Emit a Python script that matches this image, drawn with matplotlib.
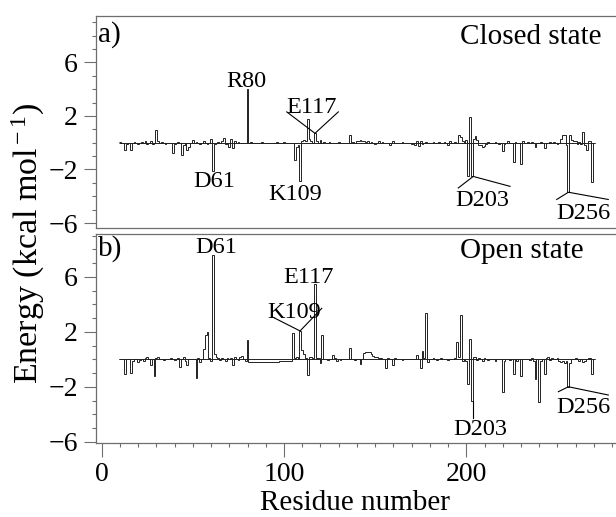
import numpy as np
import matplotlib
matplotlib.use("Agg")
import matplotlib.pyplot as plt
from matplotlib.ticker import FixedLocator, MultipleLocator

plt.rcParams["font.family"] = ["Liberation Serif", "DejaVu Serif"]
plt.rcParams["mathtext.fontset"] = "custom"
plt.rcParams["mathtext.rm"] = "Liberation Serif"
plt.rcParams["mathtext.it"] = "Liberation Serif:italic"

# residue range covered by the calculation
first_res, last_res = 10, 270

# closed state: residue -> interaction energy (kcal/mol), zeros elsewhere
closed_res = [10, 11, 13, 14, 16, 18, 20, 22, 24, 25, 27, 28, 30, 31, 33, 35, 37, 39, 40, 42,
              44, 45, 47, 48, 50, 52, 54, 56, 58, 60, 61, 62, 64, 66, 67, 68, 70, 71, 72, 73,
              75, 80, 82, 88, 96, 100, 103, 106, 107, 108, 109, 110, 111, 112, 113, 114, 115, 117, 118, 120,
              122, 125, 130, 136, 138, 140, 141, 142, 143, 144, 145, 146, 148, 150, 152, 154, 158, 160, 165, 170,
              172, 173, 174, 175, 176, 178, 182, 185, 188, 190, 191, 192, 194, 196, 197, 198, 199, 200, 201, 202,
              203, 204, 205, 206, 207, 208, 209, 210, 211, 212, 214, 216, 218, 220, 221, 223, 224, 226, 227, 228,
              230, 231, 234, 236, 238, 239, 241, 243, 244, 246, 248, 250, 252, 253, 254, 255, 256, 257, 258, 259,
              260, 261, 262, 263, 264, 265, 266, 267, 268, 269]
closed_dg = [0.05, -0.05, -0.55, -0.1, -0.55, 0.05, -0.1, 0.08, 0.1, -0.1, 0.12, -0.08, 0.95, 0.1, 0.05, -0.08, -0.05, -0.8, -0.1, 0.08,
             -0.95, -0.15, -0.55, -0.3, 0.2, 0.05, -0.1, 0.15, -0.1, 0.25, -2.15, -0.1, 0.05, 0.1, 0.35, -0.1, -0.35, 0.3, -0.4, 0.1,
             0.05, 4.0, 0.05, 0.05, 0.08, 0.05, -0.05, -1.3, -0.35, -0.2, -2.85, 0.15, 0.2, 0.15, 1.8, 0.3, 0.15, 0.7, 0.15, 0.2,
             0.05, 0.05, 0.05, 0.55, 0.05, 0.1, 0.15, 0.2, 0.12, 0.15, 0.08, 0.1, 0.05, -0.08, 0.1, 0.05, -0.2, 0.1, 0.05, -0.08,
             -0.15, 0.1, -0.25, 0.1, -0.1, 0.05, 0.05, 0.08, 0.05, -0.15, 0.1, -0.05, 0.05, 0.55, 0.45, 0.1, -0.05, 0.2, -2.5, 1.9,
             -2.5, 0.3, 0.5, 0.2, -0.2, -0.15, -0.3, -0.25, -0.1, 0.05, -0.05, 0.05, -0.1, -0.6, -0.1, 0.1, -0.05, -1.45, 0.05, -0.05,
             -1.6, 0.1, 0.08, 0.05, -0.35, -0.05, 0.05, -0.4, -0.05, 0.05, 0.08, -0.1, 0.25, 0.55, 0.6, -0.2, -3.65, 0.6, 0.2, 0.1,
             0.15, -0.1, 0.05, -0.1, 0.8, -0.2, -0.55, 0.15, 0.1, -2.9]

# open state
open_res = [10, 11, 13, 14, 16, 17, 18, 20, 21, 22, 23, 24, 25, 26, 27, 28, 29, 30, 31, 32,
            34, 36, 38, 40, 42, 43, 44, 45, 46, 47, 48, 50, 52, 53, 54, 55, 56, 57, 58, 59,
            60, 61, 62, 63, 64, 65, 66, 67, 68, 69, 70, 71, 72, 73, 74, 75, 76, 77, 78, 79,
            80, 81, 82, 83, 84, 85, 86, 87, 88, 89, 90, 91, 92, 93, 94, 95, 96, 97, 98, 99,
            100, 101, 102, 103, 104, 105, 106, 107, 108, 109, 110, 111, 112, 113, 114, 115, 116, 117, 118, 119,
            120, 121, 122, 124, 126, 127, 128, 129, 131, 133, 136, 137, 139, 140, 142, 143, 144, 145, 146, 147,
            148, 149, 150, 151, 152, 153, 154, 156, 157, 158, 160, 161, 163, 165, 168, 170, 173, 174, 175, 176,
            177, 178, 179, 180, 182, 184, 186, 188, 190, 192, 194, 195, 196, 197, 198, 199, 200, 201, 202, 203,
            204, 205, 206, 207, 208, 209, 210, 211, 212, 214, 216, 218, 220, 221, 222, 224, 226, 227, 228, 230,
            231, 233, 235, 236, 237, 238, 239, 240, 241, 243, 244, 245, 246, 247, 248, 250, 251, 252, 253, 254,
            255, 256, 257, 258, 260, 262, 263, 264, 265, 266, 267, 268, 269]
open_dg = [0.05, 0.05, -1.1, 0.05, -1.0, -0.1, 0.05, -0.2, -0.05, 0.05, -0.15, 0.1, 0.15, 0.05, -0.45, 0.05, -1.2, 0.1, 0.15, 0.05,
           -0.05, 0.05, 0.08, -0.05, 0.1, -0.55, 0.05, 0.15, -0.1, -0.4, 0.05, 0.05, -1.35, 0.1, -0.2, 0.05, 0.75, 1.75, 1.95, 0.1,
           -0.1, 7.6, 0.4, 0.2, 0.1, -0.05, 0.1, 0.05, -0.1, 0.1, 0.05, 0.1, -0.45, 0.15, 0.05, -0.05, 0.2, 0.25, 0.05, -0.1,
           1.4, -0.17, -0.17, -0.18, -0.17, -0.17, -0.18, -0.18, -0.17, -0.17, -0.18, -0.18, -0.17, -0.17, -0.17, -0.18, -0.17, -0.17, -0.16, -0.16,
           -0.16, -0.15, -0.15, -0.14, -0.12, 1.9, 0.1, 0.15, 0.05, 2.05, 0.7, 0.4, 0.1, -1.15, 0.2, 0.15, 0.1, 5.5, 0.1, 0.1,
           -0.25, 1.8, 0.05, -0.05, 0.05, 0.3, 0.1, -0.1, -0.05, 0.05, 0.8, 0.05, -0.05, 0.05, -0.35, 0.05, 0.45, 0.5, 0.55, 0.5,
           0.35, 0.25, 0.2, 0.15, 0.1, 0.1, 0.05, -0.65, 0.1, 0.05, -0.45, 0.1, 0.05, -0.05, 0.05, 0.05, 0.3, 0.05, -0.6, 0.6,
           0.1, 3.4, -0.2, 0.05, 0.08, -0.05, 0.1, 0.05, -0.05, 0.05, 0.1, 1.25, 0.2, 3.2, -0.1, 0.05, -0.1, -1.8, 1.5, -3.05,
           0.2, 0.15, -0.05, 0.1, 0.05, -0.1, 0.1, 0.05, -0.08, 0.05, -0.1, 0.05, -2.4, -0.1, 0.05, -0.05, -1.05, 0.05, -0.1, -1.2,
           0.05, 0.05, -0.05, 0.1, -0.1, -1.4, 0.05, -3.1, -0.1, -1.1, 0.1, 0.15, -0.05, 0.1, 0.05, 0.1, -0.1, -0.2, -0.15, -0.25,
           -0.1, -2.0, -0.3, 0.05, 0.1, -0.1, 0.05, -0.2, -0.15, 0.05, 0.1, 0.1, -1.05]

# labelled residues: (label, text x, text y, leader line points)
closed_labels = [
    ("R80", 79.2, 4.15, None),
    ("E117", 115.1, 2.2, [(101.5, 2.3), (117.0, 0.7), (129.8, 2.3)]),
    ("D61", 61.6, -3.3, None),
    ("K109", 106.0, -4.25, None),
    ("D203", 208.9, -4.75, [(195.6, -3.38), (203.8, -2.52), (224.0, -3.26)]),
    ("D256", 264.0, -5.7, [(249.6, -4.24), (256.0, -3.7), (277.9, -4.24)]),
]
open_labels = [
    ("D61", 62.7, 7.75, None),
    ("E117", 113.7, 5.55, None),
    ("K109", 105.8, 3.0, [(93.3, 3.1), (108.8, 2.06), (120.7, 3.7)]),
    ("D203", 207.8, -5.5, [(203.5, -3.05), (203.5, -4.3)]),
    ("D256", 264.0, -3.9, [(250.5, -2.36), (256.0, -2.0), (277.9, -2.6)]),
]

W, H = 616, 517
fig = plt.figure(figsize=(W / 100, H / 100), dpi=100)

left_px, right_px = 96, 619
x0_px, px_per_res = 101.7, 1.823
xlim = ((left_px - x0_px) / px_per_res, (right_px - x0_px) / px_per_res)


def make_axes(top_px, bot_px):
    return fig.add_axes([left_px / W, 1 - bot_px / H, (right_px - left_px) / W, (bot_px - top_px) / H])


ax_a = make_axes(16, 228)
ax_b = make_axes(234, 443)

edges = np.arange(first_res - 0.5, last_res + 1.0)
spine_col = "#6e6e6e"

panels = [
    (ax_a, closed_res, closed_dg, closed_labels, "a)", "Closed state", (-6.37, 9.46)),
    (ax_b, open_res, open_dg, open_labels, "b)", "Open state", (-6.09, 9.11)),
]

for ax, res, dg, labels, tag, state, ylim in panels:
    energy = np.zeros(last_res - first_res + 1)
    energy[np.array(res) - first_res] = dg
    ax.hlines(0, edges[0], edges[-1], color="#222222", lw=0.7)
    ax.stairs(energy, edges, baseline=None, color="#222222", lw=0.7)
    for lab, tx, ty, pts in labels:
        ax.text(tx, ty, lab, fontsize=17.5, ha="center", va="baseline")
        if pts:
            xs, ys = zip(*pts)
            ax.plot(xs, ys, color="black", lw=0.8)
    ax.text(-2.0, 8.05, tag, fontsize=21, ha="left", va="center")
    ax.text(196.6, 7.9, state, fontsize=21, ha="left", va="center")

    ax.set_xlim(*xlim)
    ax.set_ylim(*ylim)
    ax.yaxis.set_major_locator(FixedLocator([-6, -2, 2, 6]))
    ax.yaxis.set_minor_locator(MultipleLocator(1))
    ax.tick_params(axis="y", which="major", direction="out", length=9, width=0.8,
                   color=spine_col, labelsize=20, pad=4)
    ax.tick_params(axis="y", which="minor", direction="out", length=3, width=0.8, color=spine_col)
    ax.spines["right"].set_visible(False)
    for s in ("top", "left", "bottom"):
        ax.spines[s].set_color(spine_col)
        ax.spines[s].set_linewidth(0.9)

ax_a.tick_params(axis="x", which="both", bottom=False, labelbottom=False)
ax_b.xaxis.set_major_locator(FixedLocator([0, 100, 200]))
ax_b.xaxis.set_minor_locator(MultipleLocator(10))
ax_b.tick_params(axis="x", which="major", direction="out", length=10, width=0.8,
                 color=spine_col, labelsize=20, pad=4)
ax_b.tick_params(axis="x", which="minor", direction="out", length=3, width=0.8, color=spine_col)

fig.text(28 / W, 1 - 243 / H, r"Energy (kcal mol$^{\rm -1}$)", fontsize=24.5,
         rotation=90, ha="center", va="center")
fig.text(355 / W, 1 - 503 / H, "Residue number", fontsize=21, ha="center", va="center")

fig.savefig("out.png", dpi=100)
